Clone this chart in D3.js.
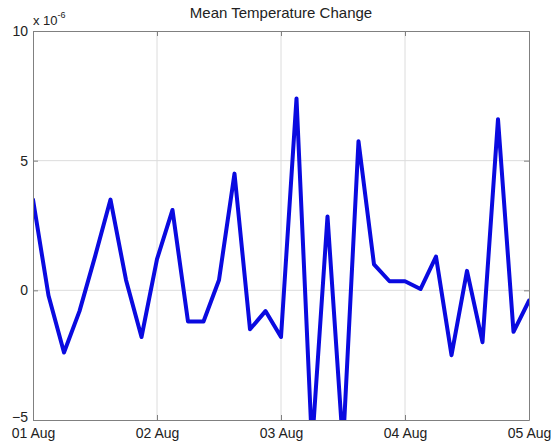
<!DOCTYPE html>
<html>

<head>
  <meta charset="utf-8">
  <title>Mean Temperature Change</title>
  <style>
    body {
      margin: 0;
      background: #fff;
      font-family: Arial, "Liberation Sans", sans-serif;
    }

    svg .grid line {
      stroke: #dcdcdc;
      stroke-width: 1px;
    }

    svg .axis path,
    svg .axis line {
      stroke: #808080;
    }

    svg .axis text {
      fill: #222;
      font-size: 14px;
    }

    svg .series {
      fill: none;
      stroke: #0a0ae0;
      stroke-width: 4px;
      stroke-linejoin: round;
      stroke-linecap: round;
    }
  </style>
</head>

<body>
  <svg class="chart" width="555" height="444"></svg>

  <script src="https://d3js.org/d3.v7.min.js"></script>
  <script>
    // samples every 3 hours, 01 Aug 00:00 -> 05 Aug 00:00, values in units of 1e-6
    var startTime = new Date(Date.UTC(2013, 7, 1));
    var stepHours = 3;
    var values = [
      3.5, -0.2, -2.4, -0.8, 1.3, 3.5, 0.4, -1.8,
      1.2, 3.1, -1.2, -1.2, 0.4, 4.5, -1.5, -0.8,
      -1.8, 7.4, -6.0, 2.85, -6.0, 5.75, 1.0, 0.35,
      0.35, 0.05, 1.3, -2.5, 0.75, -2.0, 6.6, -1.6,
      -0.4
    ];
    var yTicks = [-5, 0, 5, 10];
    var yDomain = [-5, 10];
    var exponentLabel = '-6';
    var titleText = 'Mean Temperature Change';

    var svg = d3.select('svg.chart');
    var margin = { left: 33, right: 26, top: 31, bottom: 24 };
    var width = 555, height = 444;

    var endTime = d3.utcHour.offset(startTime, stepHours * (values.length - 1));

    var x = d3.scaleUtc()
      .domain([startTime, endTime])
      .range([margin.left, width - margin.right]);

    var y = d3.scaleLinear()
      .domain(yDomain)
      .range([height - margin.bottom, margin.top]);

    var xTicks = d3.utcDay.range(startTime, d3.utcHour.offset(endTime, 1));
    var fmt = d3.utcFormat('%d %b');

    // grid
    var grid = svg.append('g').attr('class', 'grid');
    grid.selectAll('line.v')
      .data(xTicks.slice(1, -1))
      .enter().append('line')
      .attr('x1', function(d) { return x(d); })
      .attr('x2', function(d) { return x(d); })
      .attr('y1', margin.top)
      .attr('y2', height - margin.bottom);
    grid.selectAll('line.h')
      .data(yTicks.slice(1, -1))
      .enter().append('line')
      .attr('x1', margin.left)
      .attr('x2', width - margin.right)
      .attr('y1', function(d) { return y(d); })
      .attr('y2', function(d) { return y(d); });

    // line, clipped to the axes box like matlab does
    svg.append('clipPath').attr('id', 'plot-clip')
      .append('rect')
      .attr('x', margin.left)
      .attr('y', margin.top)
      .attr('width', width - margin.left - margin.right)
      .attr('height', height - margin.top - margin.bottom);

    var line = d3.line()
      .x(function(d, i) { return x(d3.utcHour.offset(startTime, stepHours * i)); })
      .y(function(d) { return y(d); });

    svg.append('path')
      .datum(values)
      .attr('class', 'series')
      .attr('clip-path', 'url(#plot-clip)')
      .attr('d', line);

    // axes, ticks pointing inward
    svg.append('g')
      .attr('class', 'axis')
      .attr('transform', 'translate(0,' + (height - margin.bottom) + ')')
      .call(d3.axisBottom(x).tickValues(xTicks).tickFormat(fmt).tickSizeInner(-5).tickSizeOuter(0).tickPadding(8));

    svg.append('g')
      .attr('class', 'axis')
      .attr('transform', 'translate(0,' + margin.top + ')')
      .call(d3.axisTop(x).tickValues(xTicks).tickFormat('').tickSizeInner(-5).tickSizeOuter(0));

    var yAxis = svg.append('g')
      .attr('class', 'axis')
      .attr('transform', 'translate(' + margin.left + ',0)')
      .call(d3.axisLeft(y).tickValues(yTicks).tickFormat(d3.format('d')).tickSizeInner(-5).tickSizeOuter(0).tickPadding(5));

    // lift the bottom label a touch so it sits above "01 Aug"
    yAxis.selectAll('.tick text')
      .filter(function(d) { return d === yDomain[0]; })
      .attr('dy', '0.1em');

    svg.append('g')
      .attr('class', 'axis')
      .attr('transform', 'translate(' + (width - margin.right) + ',0)')
      .call(d3.axisRight(y).tickValues(yTicks).tickFormat('').tickSizeInner(-5).tickSizeOuter(0));

    svg.selectAll('.axis text').attr('font-family', 'Arial, "Liberation Sans", sans-serif');

    // exponent label
    var expo = svg.append('text')
      .attr('x', margin.left)
      .attr('y', 25)
      .attr('font-family', 'Arial, "Liberation Sans", sans-serif')
      .attr('font-size', 13)
      .attr('fill', '#222')
      .text('x 10');
    expo.append('tspan')
      .attr('dy', -7)
      .attr('font-size', 9)
      .text(exponentLabel);

    // title
    svg.append('text')
      .attr('x', (margin.left + width - margin.right) / 2)
      .attr('y', 18)
      .attr('text-anchor', 'middle')
      .attr('font-family', 'Arial, "Liberation Sans", sans-serif')
      .attr('font-size', 15)
      .attr('fill', '#222')
      .text(titleText);
  </script>
</body>

</html>
